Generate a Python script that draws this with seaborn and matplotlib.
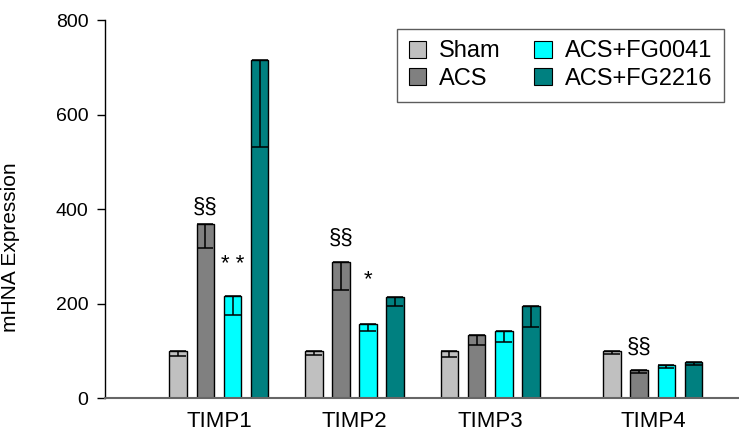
import numpy as np
import pandas as pd
import seaborn as sns
import matplotlib.pyplot as plt

# data
genes = ['TIMP1', 'TIMP2', 'TIMP3', 'TIMP4']
treatments = ['Sham', 'ACS', 'ACS+FG0041', 'ACS+FG2216']
sham = [100, 100, 100, 100]
acs = [368, 289, 133, 59]
fg0041 = [217, 156, 142, 70]
fg2216 = [715, 213, 194, 77]
sham_se = [10, 9, 14, 6]
acs_se = [51, 61, 20, 5]
fg0041_se = [41, 14, 24, 6]
fg2216_se = [183, 19, 44, 7]

ann_gene = ['TIMP1', 'TIMP1', 'TIMP2', 'TIMP2', 'TIMP4']
ann_treat = ['ACS', 'ACS+FG0041', 'ACS', 'ACS+FG0041', 'ACS']
ann_text = ['§§', '* *', '§§', '*', '§§']

# layout: group positions (TIMP4 sits a bit further out) and label heights
gene_pos = [0, 1, 2, 3.2]
ann_y = [404, 283, 339, 250, 108]

colors = ['#C0C0C0', '#808080', '#00FFFF', '#008080']

means = [sham, acs, fg0041, fg2216]
ses = [sham_se, acs_se, fg0041_se, fg2216_se]
rows = []
for t, m, s in zip(treatments, means, ses):
    for g, p, v, e in zip(genes, gene_pos, m, s):
        rows.append({'gene': g, 'pos': p, 'treatment': t, 'value': v, 'se': e})
df = pd.DataFrame(rows)

sns.set_style('white')
plt.rcParams['font.family'] = ['Liberation Sans', 'DejaVu Sans']
plt.rcParams['text.color'] = 'black'
plt.rcParams['xtick.color'] = 'black'
plt.rcParams['ytick.color'] = 'black'
plt.rcParams['axes.labelcolor'] = 'black'

fig = plt.figure(figsize=(7.39, 4.37), dpi=100)
ax = fig.add_axes([0.142, 0.089, 0.857, 0.865])

sns.barplot(data=df, x='pos', y='value', hue='treatment', hue_order=treatments,
            palette=colors, saturation=1, native_scale=True, width=0.8, gap=0.35,
            errorbar=None, edgecolor='black', linewidth=1, ax=ax)

# one-sided (downward) error bars, placed on the bars seaborn drew
bar_xy = {}
for t, cont in zip(treatments, ax.containers):
    for bar in cont:
        cx = bar.get_x() + bar.get_width() / 2
        gi = int(np.argmin([abs(cx - p) for p in gene_pos]))
        bar_xy[(genes[gi], t)] = cx
        row = df[(df.gene == genes[gi]) & (df.treatment == t)].iloc[0]
        ax.errorbar(cx, row.value, yerr=[[row.se], [0]], fmt='none',
                    ecolor='black', elinewidth=1.1, capsize=6, capthick=1.1)

for g, t, s, y in zip(ann_gene, ann_treat, ann_text, ann_y):
    ax.text(bar_xy[(g, t)], y, s, ha='center', va='center', fontsize=16)

ax.set_xlim(-0.841, 3.83)
ax.set_ylim(0, 800)
ax.set_yticks([0, 200, 400, 600, 800])
ax.set_xticks(gene_pos)
ax.set_xticklabels(genes, fontsize=16)
ax.tick_params(axis='x', length=0, pad=9)
ax.tick_params(axis='y', length=6, width=1, direction='out', pad=6,
               labelsize=14, left=True)
ax.set_xlabel('')
ax.set_ylabel('mHNA Expression', fontsize=15)
ax.yaxis.set_label_coords(-0.134, 0.40)

sns.despine(ax=ax)
ax.spines['left'].set_color('black')
ax.spines['left'].set_linewidth(1)
ax.spines['bottom'].set_color('#666666')
ax.spines['bottom'].set_linewidth(1.5)

handles, labels = ax.get_legend_handles_labels()
leg = ax.legend(handles, labels, ncol=2, loc='upper right',
                bbox_to_anchor=(0.985, 0.99), fontsize=17, frameon=True,
                fancybox=False, edgecolor='#333333', handlelength=0.75,
                handleheight=0.75, handletextpad=0.55, columnspacing=1.4,
                labelspacing=0.23, borderpad=0.5, borderaxespad=0.2)
leg.get_frame().set_linewidth(1)
for h in leg.legend_handles:
    h.set_edgecolor('black')
    h.set_linewidth(0.8)

fig.savefig('out.png', dpi=100)
